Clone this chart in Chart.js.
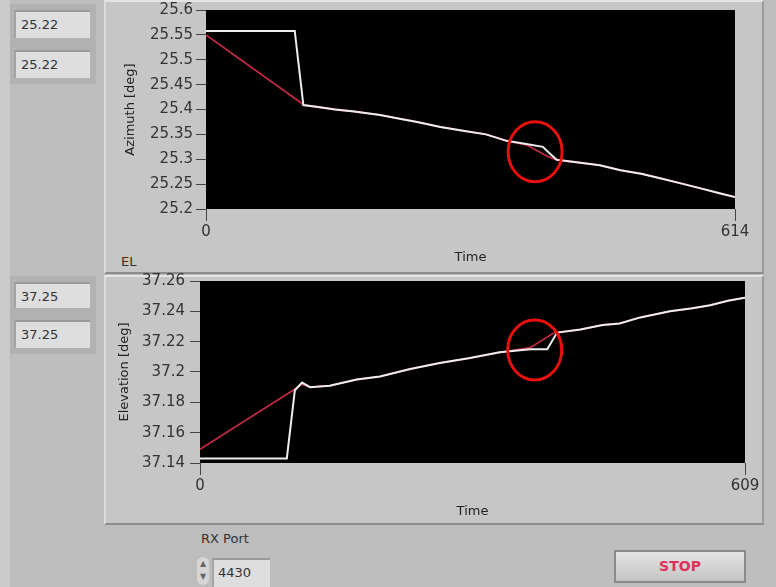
<!DOCTYPE html>
<html lang="en">
<head>
<meta charset="UTF-8">
<title>AZ / EL tracking</title>
<script src="https://cdn.jsdelivr.net/npm/chart.js"></script>
<style>
    html, body { margin: 0; padding: 0; overflow: hidden; }
    body { width: 776px; height: 587px; position: relative; background: #bdbdbd; font-family: "DejaVu Sans", sans-serif; }
    .abs { position: absolute; }
    .edge { left: 0; top: 0; width: 10px; height: 587px; background: #cacaca; }
    .frame { background: #c6c6c6; border-top: 2px solid #e4e4e4; border-left: 2px solid #dcdcdc; border-right: 2px solid #9a9a9a; border-bottom: 2px solid #8c8c8c; box-sizing: border-box; }
    .holder { background: #b2b2b2; box-sizing: border-box; }
    .ind { background: #dedede; border-top: 2px solid #9a9a9a; border-left: 2px solid #a4a4a4; box-sizing: border-box; font-size: 13px; color: #333; padding: 5px 0 0 5px; }
    canvas { position: absolute; }
    .lbl { font-size: 13px; color: #333; }
    .stop { background: linear-gradient(#e4e4e4, #c4c4c4); border: 2px solid #8a8a8a; box-sizing: border-box; color: #e0305a; font-weight: bold; font-size: 14px; text-align: center; line-height: 28px; }
</style>
</head>
<body>
    <div class="abs edge"></div>
    <!-- left indicators -->
    <div class="abs holder" style="left:10px;top:4px;width:86px;height:80px;"></div>
    <div class="abs ind" style="left:14px;top:10px;width:76px;height:28px;">25.22</div>
    <div class="abs ind" style="left:14px;top:50px;width:76px;height:28px;">25.22</div>
    <div class="abs holder" style="left:10px;top:276px;width:86px;height:78px;"></div>
    <div class="abs ind" style="left:14px;top:282px;width:76px;height:26px;">37.25</div>
    <div class="abs ind" style="left:14px;top:320px;width:76px;height:28px;">37.25</div>

    <!-- graph frames -->
    <div class="abs frame" style="left:104px;top:0;width:660px;height:274px;"></div>
    <div class="abs frame" style="left:104px;top:275px;width:660px;height:250px;"></div>
    <div class="abs lbl" style="left:121px;top:254px;">EL</div>

    <canvas id="azChart" width="660" height="272" style="left:108px;top:0;"></canvas>
    <canvas id="elChart" width="665" height="260" style="left:108px;top:265px;"></canvas>

    <!-- bottom controls -->
    <div class="abs lbl" style="left:201px;top:531px;">RX Port</div>
    <div class="abs" style="left:197px;top:557px;width:12px;height:28px;background:#d6d6d6;border-radius:6px;font-size:8px;color:#666;text-align:center;line-height:13px;">&#9650;<br>&#9660;</div>
    <div class="abs ind" style="left:212px;top:558px;width:58px;height:29px;padding-left:4px;">4430</div>
    <div class="abs stop" style="left:614px;top:550px;width:132px;height:33px;">STOP</div>

<script>
// ---- azimuth (top graph) ----
var azTime  = [0, 103, 113, 130, 150, 172, 202, 220, 245, 272, 300, 325, 349, 370, 391, 400, 407, 430, 457, 481, 505, 527, 550, 573, 595, 614];
var azWhite = [25.558, 25.558, 25.409, 25.405, 25.400, 25.396, 25.389, 25.383, 25.375, 25.365, 25.357, 25.350, 25.337, 25.331, 25.325, 25.310, 25.299, 25.294, 25.288, 25.278, 25.271, 25.262, 25.252, 25.242, 25.232, 25.224];
var azRedTime = [0, 109, 113, 130, 150, 172, 202, 220, 245, 272, 300, 325, 349, 372, 396, 407, 430, 457, 481, 505, 527, 550, 573, 595, 614];
var azRed     = [25.550, 25.415, 25.409, 25.405, 25.400, 25.396, 25.389, 25.383, 25.375, 25.365, 25.357, 25.350, 25.337, 25.329, 25.306, 25.299, 25.294, 25.288, 25.278, 25.271, 25.262, 25.252, 25.242, 25.232, 25.224];
var azTicks = [25.2, 25.25, 25.3, 25.35, 25.4, 25.45, 25.5, 25.55, 25.6];
var azTimeTicks = [0, 614];
var azMark = [382, 25.315];

// ---- elevation (bottom graph) ----
var elTime  = [0, 97, 106, 114, 123, 145, 175, 201, 235, 268, 300, 335, 369, 388, 399, 425, 450, 469, 492, 525, 550, 570, 590, 609];
var elWhite = [37.143, 37.143, 37.188, 37.193, 37.190, 37.191, 37.195, 37.197, 37.202, 37.206, 37.209, 37.213, 37.215, 37.215, 37.226, 37.228, 37.231, 37.232, 37.236, 37.240, 37.242, 37.244, 37.247, 37.249];
var elRedTime = [0, 104, 114, 123, 145, 175, 201, 235, 268, 300, 335, 369, 396, 399, 425, 450, 469, 492, 525, 550, 570, 590, 609];
var elRed     = [37.149, 37.188, 37.192, 37.190, 37.191, 37.195, 37.197, 37.202, 37.206, 37.209, 37.213, 37.216, 37.226, 37.226, 37.228, 37.231, 37.232, 37.236, 37.240, 37.242, 37.244, 37.247, 37.249];
var elTicks = [37.14, 37.16, 37.18, 37.2, 37.22, 37.24, 37.26];
var elTimeTicks = [0, 609];
var elMark = [374, 37.2145];

function pts(xs, ys) {
    return xs.map(function (x, i) { return { x: x, y: ys[i] }; });
}

// black plot background + red highlight ellipse
var labviewPlot = {
    id: 'labviewPlot',
    beforeDatasetsDraw: function (chart) {
        var a = chart.chartArea, ctx = chart.ctx;
        ctx.save();
        ctx.fillStyle = '#000';
        ctx.fillRect(a.left, a.top, a.right - a.left, a.bottom - a.top);
        ctx.restore();
    },
    afterDatasetsDraw: function (chart, args, opts) {
        var ctx = chart.ctx;
        var cx = chart.scales.x.getPixelForValue(opts.mark[0]);
        var cy = chart.scales.y.getPixelForValue(opts.mark[1]);
        ctx.save();
        ctx.strokeStyle = '#e8100c';
        ctx.lineWidth = 3;
        ctx.beginPath();
        ctx.ellipse(cx, cy, 27, 30, 0, 0, Math.PI * 2);
        ctx.stroke();
        ctx.restore();
    }
};

function makeGraph(id, o) {
    var font = { family: 'DejaVu Sans', size: 15 };
    var tfont = { family: 'DejaVu Sans', size: 13 };
    return new Chart(document.getElementById(id), {
        type: 'line',
        data: {
            datasets: [
                { data: pts(o.time, o.white), borderColor: '#ededed', borderWidth: 2, pointRadius: 0, tension: 0, order: 0 },
                { data: pts(o.redTime, o.red), borderColor: '#c02a40', borderWidth: 1.8, pointRadius: 0, tension: 0, order: 1 }
            ]
        },
        options: {
            responsive: false,
            animation: false,
            layout: { padding: o.pad },
            plugins: { legend: { display: false }, tooltip: { enabled: false }, labviewPlot: { mark: o.mark } },
            scales: {
                x: {
                    type: 'linear', min: 0, max: o.time[o.time.length - 1],
                    afterBuildTicks: function (s) { s.ticks = o.xTicks.map(function (v) { return { value: v }; }); },
                    afterFit: function (s) { s.height = o.xh; s.paddingLeft = 0; s.paddingRight = 0; },
                    grid: { drawOnChartArea: false, tickLength: 12, color: '#444' },
                    border: { display: false },
                    ticks: { color: '#333', font: font, padding: 2, maxRotation: 0, autoSkip: false },
                    title: { display: true, text: 'Time', color: '#222', font: tfont, padding: { top: 0, bottom: o.xtPad } }
                },
                y: {
                    min: o.yTicks[0], max: o.yTicks[o.yTicks.length - 1],
                    afterBuildTicks: function (s) { s.ticks = o.yTicks.map(function (v) { return { value: v }; }); },
                    afterFit: function (s) { s.width = o.yw; s.paddingTop = 0; s.paddingBottom = 0; },
                    grid: { drawOnChartArea: false, tickLength: 10, color: '#444' },
                    border: { display: false },
                    ticks: { color: '#333', font: font, padding: o.yPad, autoSkip: false,
                        callback: function (v) { return String(+v.toFixed(3)); } },
                    title: { display: true, text: o.yTitle, color: '#222', font: tfont, padding: { top: o.ytPad, bottom: 0 } }
                }
            }
        },
        plugins: [labviewPlot]
    });
}

makeGraph('azChart', {
    time: azTime, white: azWhite, redTime: azRedTime, red: azRed,
    xTicks: azTimeTicks, yTicks: azTicks, mark: azMark, yTitle: 'Azimuth [deg]',
    pad: { top: 10, right: 33, left: 0, bottom: 0 }, xh: 63, yw: 98, yPad: 3, xtPad: 7, ytPad: 15
});

makeGraph('elChart', {
    time: elTime, white: elWhite, redTime: elRedTime, red: elRed,
    xTicks: elTimeTicks, yTicks: elTicks, mark: elMark, yTitle: 'Elevation [deg]',
    pad: { top: 16, right: 28, left: 0, bottom: 0 }, xh: 62, yw: 92, yPad: 5, xtPad: 6, ytPad: 9
});
</script>
</body>
</html>
